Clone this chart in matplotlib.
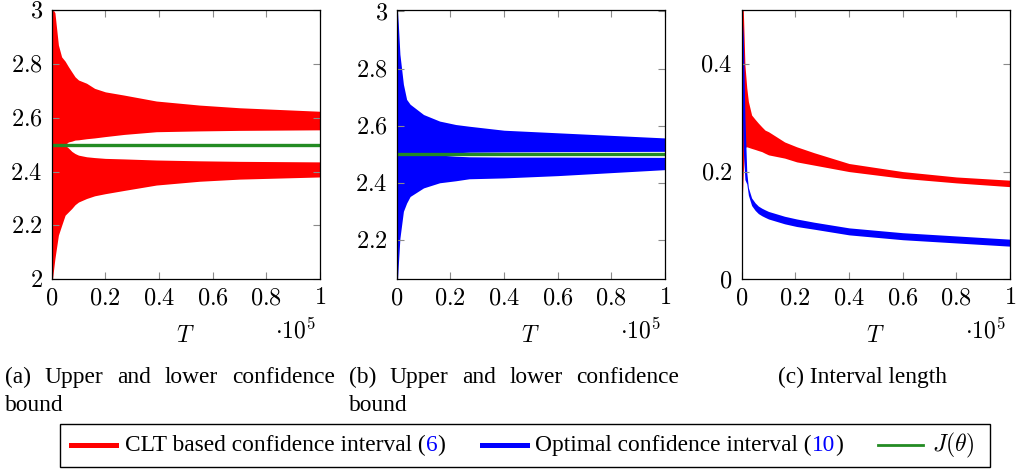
import matplotlib
matplotlib.use('Agg')
import matplotlib.pyplot as plt
from matplotlib.ticker import FuncFormatter
from matplotlib.lines import Line2D
from matplotlib.patches import Rectangle
import numpy as np

plt.rcParams['mathtext.fontset'] = 'cm'
plt.rcParams['font.family'] = ['Liberation Serif', 'DejaVu Serif']

W, H = 1016, 469

# envelope of the confidence bounds, T in units of 1e5
T_a = np.array([0, 0.003, 0.006, 0.012, 0.025, 0.037, 0.05, 0.062, 0.075, 0.087,
                0.1, 0.13, 0.16, 0.2, 0.27, 0.39, 0.55, 0.7, 1.0]) * 1e5
clt_up_hi = [3.1, 3.05, 3.0, 2.99, 2.87, 2.826, 2.81, 2.79, 2.77, 2.752,
             2.74, 2.728, 2.709, 2.696, 2.684, 2.662, 2.647, 2.637, 2.624]
clt_up_lo = [2.45, 2.47, 2.49, 2.5, 2.5, 2.5, 2.5, 2.51, 2.513, 2.517,
             2.518, 2.522, 2.525, 2.53, 2.538, 2.548, 2.551, 2.553, 2.555]
clt_lo_hi = [2.55, 2.53, 2.51, 2.5, 2.5, 2.5, 2.498, 2.488, 2.475, 2.467,
             2.461, 2.455, 2.452, 2.449, 2.447, 2.443, 2.44, 2.438, 2.436]
clt_lo_lo = [1.95, 2.0, 2.027, 2.077, 2.164, 2.2, 2.238, 2.25, 2.263, 2.277,
             2.287, 2.3, 2.31, 2.318, 2.33, 2.35, 2.364, 2.372, 2.38]

T_b = np.array([0, 0.003, 0.006, 0.012, 0.025, 0.037, 0.05, 0.1, 0.16, 0.22,
                0.27, 0.4, 0.6, 1.0]) * 1e5
opt_up_hi = [3.05, 3.0, 2.956, 2.85, 2.745, 2.692, 2.675, 2.639, 2.616, 2.604,
             2.598, 2.584, 2.575, 2.557]
opt_up_lo = [2.45, 2.48, 2.5, 2.5, 2.5, 2.5, 2.5, 2.5, 2.502, 2.505,
             2.507, 2.508, 2.509, 2.51]
opt_lo_hi = [2.55, 2.52, 2.5, 2.5, 2.5, 2.5, 2.5, 2.5, 2.497, 2.493,
             2.491, 2.49, 2.49, 2.489]
opt_lo_lo = [2.0, 2.06, 2.112, 2.206, 2.3, 2.329, 2.352, 2.382, 2.4, 2.407,
             2.414, 2.417, 2.425, 2.446]

# interval length
T_c = np.array([0, 0.003, 0.006, 0.012, 0.019, 0.025, 0.037, 0.05, 0.062, 0.075,
                0.087, 0.1, 0.16, 0.205, 0.27, 0.4, 0.6, 0.8, 1.0]) * 1e5
clt_len_hi = [0.55, 0.53, 0.5, 0.398, 0.355, 0.33, 0.305, 0.297, 0.29, 0.283,
              0.277, 0.274, 0.255, 0.246, 0.235, 0.215, 0.2, 0.19, 0.184]
clt_len_lo = [0.14, 0.16, 0.2, 0.245, 0.246, 0.245, 0.243, 0.241, 0.239, 0.237,
              0.234, 0.231, 0.225, 0.218, 0.212, 0.2, 0.1875, 0.179, 0.172]
opt_len_hi = [0.49, 0.475, 0.45, 0.30, 0.198, 0.170, 0.151, 0.142, 0.136, 0.132,
              0.129, 0.126, 0.117, 0.112, 0.106, 0.0955, 0.0865, 0.0805, 0.0745]
opt_len_lo = [0.28, 0.30, 0.24, 0.185, 0.177, 0.156, 0.137, 0.128, 0.122, 0.118,
              0.115, 0.112, 0.103, 0.098, 0.093, 0.0825, 0.0735, 0.0675, 0.0615]

J_theta = 2.5

RED = '#ff0000'
BLUE = '#0000ff'
GREEN = '#238b23'
FS = 17.5   # tick labels (Computer Modern)
LS = 17     # axis label / scale label
CS = 16.8   # captions and legend (Times-like)

fig = plt.figure(figsize=(W / 100, H / 100), dpi=100)


def px_axes(x0, x1, y0, y1):
    return fig.add_axes([x0 / W, 1 - y1 / H, (x1 - x0) / W, (y1 - y0) / H])


def style(ax, ylim, yticks):
    ax.set_xlim(0, 1e5)
    ax.set_ylim(*ylim)
    ax.set_xticks(np.arange(0, 1.01e5, 2e4))
    ax.set_yticks(yticks)
    ax.xaxis.set_major_formatter(FuncFormatter(lambda v, p: f'${v / 1e5:g}$'))
    ax.yaxis.set_major_formatter(FuncFormatter(lambda v, p: f'${v:g}$'))
    ax.tick_params(direction='in', top=True, right=True, length=5, width=0.8,
                   color='#8a8a8a', labelsize=FS, pad=6.5)
    for s in ax.spines.values():
        s.set_linewidth(0.9)
    ax.text(0.5, -0.214, '$T$', transform=ax.transAxes, ha='center', va='center', fontsize=LS)
    ax.text(0.985, -0.192, r'$\cdot 10^5$', transform=ax.transAxes, ha='right', va='center', fontsize=LS)


ax_a = px_axes(51.7, 320, 10, 279.3)
ax_b = px_axes(396.7, 665, 10, 279.3)
ax_c = px_axes(741.7, 1010, 10, 279.3)

# (a) CLT bounds
ax_a.fill_between(T_a, clt_up_lo, clt_up_hi, color=RED, lw=0)
ax_a.fill_between(T_a, clt_lo_lo, clt_lo_hi, color=RED, lw=0)
ax_a.axhline(J_theta, color=GREEN, lw=2.4)
style(ax_a, (2, 3), np.arange(2, 3.01, 0.2))

# (b) optimal bounds
ax_b.fill_between(T_b, opt_up_lo, opt_up_hi, color=BLUE, lw=0)
ax_b.fill_between(T_b, opt_lo_lo, opt_lo_hi, color=BLUE, lw=0)
ax_b.axhline(J_theta, color=GREEN, lw=2.4)
style(ax_b, (2.062, 3.005), np.arange(2.2, 3.01, 0.2))

# (c) interval length
ax_c.fill_between(T_c, clt_len_lo, clt_len_hi, color=RED, lw=0)
ax_c.fill_between(T_c, opt_len_lo, opt_len_hi, color=BLUE, lw=0)
style(ax_c, (0, 0.5), [0, 0.2, 0.4])

r = fig.canvas.get_renderer()


def justified(words, x0, x1, base, size=CS):
    texts = [fig.text(0, 1 - base / H, w, fontsize=size, va='baseline') for w in words]
    widths = [t.get_window_extent(r).width for t in texts]
    gap = (x1 - x0 - sum(widths)) / (len(words) - 1)
    x = x0
    for t, w in zip(texts, widths):
        t.set_x(x / W)
        x += w + gap


def runs(x0, base, parts, size=CS):
    x = x0
    for s, c in parts:
        t = fig.text(x / W, 1 - base / H, s, color=c, fontsize=size, va='baseline')
        x += t.get_window_extent(r).width


# captions
justified(['(a)', 'Upper', 'and', 'lower', 'confidence'], 5, 335, 383)
fig.text(5 / W, 1 - 411 / H, 'bound', fontsize=CS, va='baseline')
justified(['(b)', 'Upper', 'and', 'lower', 'confidence'], 349, 679, 383)
fig.text(349 / W, 1 - 411 / H, 'bound', fontsize=CS, va='baseline')
fig.text(862 / W, 1 - 383 / H, '(c) Interval length', fontsize=CS, va='baseline', ha='center')

# legend
fig.add_artist(Rectangle((60 / W, 1 - 467 / H), 930 / W, 43 / H, transform=fig.transFigure,
                         fill=False, ec='black', lw=1.0))
for (x0, x1), col, lw in [((71, 116), RED, 3.6), ((482, 527), BLUE, 3.6), ((878, 923), GREEN, 2.0)]:
    fig.add_artist(Line2D([x0 / W, x1 / W], [1 - 445 / H] * 2, transform=fig.transFigure,
                          color=col, lw=lw))
runs(125, 451, [('CLT based confidence interval (', 'black'), ('6', BLUE), (')', 'black')])
runs(535, 451, [('Optimal confidence interval (', 'black'), ('10', BLUE), (')', 'black')])
runs(932, 451, [(r'$J(\theta)$', 'black')], size=LS)

fig.savefig('out.png', dpi=100)
